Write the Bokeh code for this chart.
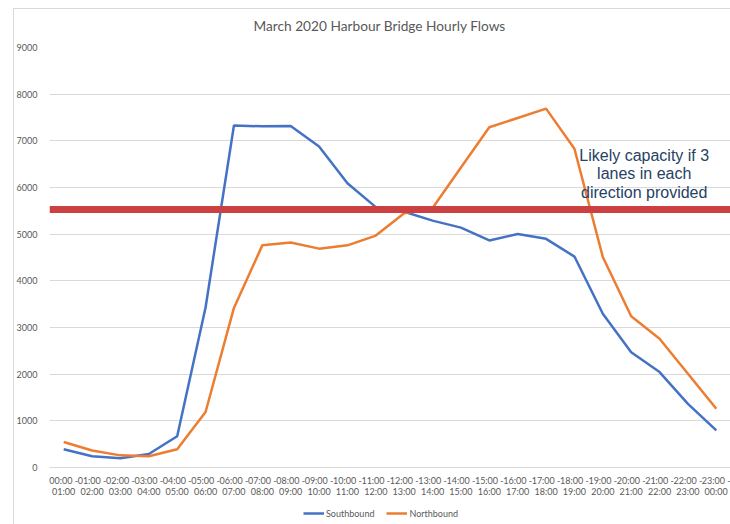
from bokeh.plotting import figure
from bokeh.layouts import column
from bokeh.models import (FactorRange, Range1d, Span, Label, Legend, LegendItem,
                          SingleIntervalTicker, ColumnDataSource, InlineStyleSheet)
from bokeh.embed import file_html
from bokeh.resources import INLINE

hours = ["00:00", "01:00", "02:00", "03:00", "04:00", "05:00", "06:00", "07:00",
         "08:00", "09:00", "10:00", "11:00", "12:00", "13:00", "14:00", "15:00",
         "16:00", "17:00", "18:00", "19:00", "20:00", "21:00", "22:00", "23:00", "00:00"]
categories = [f"{hours[i]} -\n{hours[i+1]}" for i in range(24)]

southbound = [390, 240, 200, 290, 670, 3430, 7330, 7310, 7320, 6880, 6090, 5580,
              5480, 5290, 5140, 4865, 5005, 4900, 4520, 3295, 2470, 2045, 1365, 795]
northbound = [545, 365, 260, 240, 390, 1190, 3420, 4760, 4820, 4690, 4760, 4970,
              5450, 5560, 6430, 7290, 7490, 7690, 6830, 4510, 3240, 2760, 2010, 1260]
capacity = 5530

series_names = ["Southbound", "Northbound"]
series_colors = ["#4472C4", "#ED7D31"]

title_text = "March 2020 Harbour Bridge Hourly Flows"
note_text = "Likely capacity if 3\nlanes in each\ndirection provided"

src = ColumnDataSource(dict(cat=categories, sb=southbound, nb=northbound))

fig = figure(width=730, height=501, x_range=FactorRange(factors=categories, range_padding=0),
             y_range=Range1d(0, 9000), output_backend="svg", toolbar_location=None,
             min_border_left=49, min_border_right=0, min_border_top=47, min_border_bottom=34)

fig.outline_line_color = None
fig.background_fill_color = "white"
fig.border_fill_color = "white"

fig.title.text = title_text
fig.title.align = "left"
fig.title.offset = 204
fig.title.text_font = "Lato"
fig.title.text_font_size = "13.7px"
fig.title.text_font_style = "normal"
fig.title.text_color = "#595959"
fig.title.standoff = 27

fig.xgrid.grid_line_color = None
fig.ygrid.grid_line_color = "#D9D9D9"
fig.ygrid.grid_line_width = 1

fig.yaxis.ticker = SingleIntervalTicker(interval=1000)
fig.yaxis.axis_line_color = None
fig.yaxis.major_tick_line_color = None
fig.yaxis.minor_tick_line_color = None
fig.yaxis.major_label_text_font = "Lato"
fig.yaxis.major_label_text_font_size = "9px"
fig.yaxis.major_label_text_color = "#595959"
fig.yaxis.major_label_standoff = 6

fig.xaxis.axis_line_color = "#D9D9D9"
fig.xaxis.major_tick_line_color = None
fig.xaxis.minor_tick_line_color = None
fig.xaxis.major_label_text_font = "Lato"
fig.xaxis.major_label_text_font_size = "9px"
fig.xaxis.major_label_text_color = "#595959"
fig.xaxis.major_label_text_line_height = 1.0
fig.xaxis.major_label_standoff = 1

fig.line("cat", "sb", source=src, line_color=series_colors[0], line_width=2.5)
fig.line("cat", "nb", source=src, line_color=series_colors[1], line_width=2.5)

fig.add_layout(Span(location=capacity, dimension="width", line_color="#CB4040", line_width=7))

fig.add_layout(Label(x=20.96, y=5720, text=note_text, text_align="center",
                     text_baseline="bottom", text_font="Liberation Sans",
                     text_font_size="16px", text_color="#264264", text_line_height=1.07))

# legend strip below the chart
leg = figure(width=730, height=23, output_backend="svg", toolbar_location=None,
             x_range=Range1d(0, 1), y_range=Range1d(0, 1),
             min_border=0, outline_line_color=None)
leg.axis.visible = False
leg.grid.visible = False
items = []
for name, col in zip(series_names, series_colors):
    r = leg.line(x=[float("nan")], y=[float("nan")], line_color=col, line_width=2.5)
    items.append(LegendItem(label=name, renderers=[r]))
legend = Legend(items=items, location=(254, 5), orientation="horizontal", padding=0,
                margin=0, spacing=12, label_standoff=2, glyph_width=21, glyph_height=12,
                label_text_font="Lato", label_text_font_size="9px",
                label_text_color="#595959", border_line_color=None,
                background_fill_alpha=0)
leg.add_layout(legend, "center")

frame_css = InlineStyleSheet(css="""
:host::after {
  content: ""; position: absolute; left: 13px; top: 8px; right: 0; bottom: 0;
  border-left: 1px solid #D9D9D9; border-top: 1px solid #D9D9D9;
  pointer-events: none; z-index: 100;
}
""")

p = column(fig, leg, spacing=0, stylesheets=[frame_css])

open("out.html", "w").write(file_html(p, INLINE))
